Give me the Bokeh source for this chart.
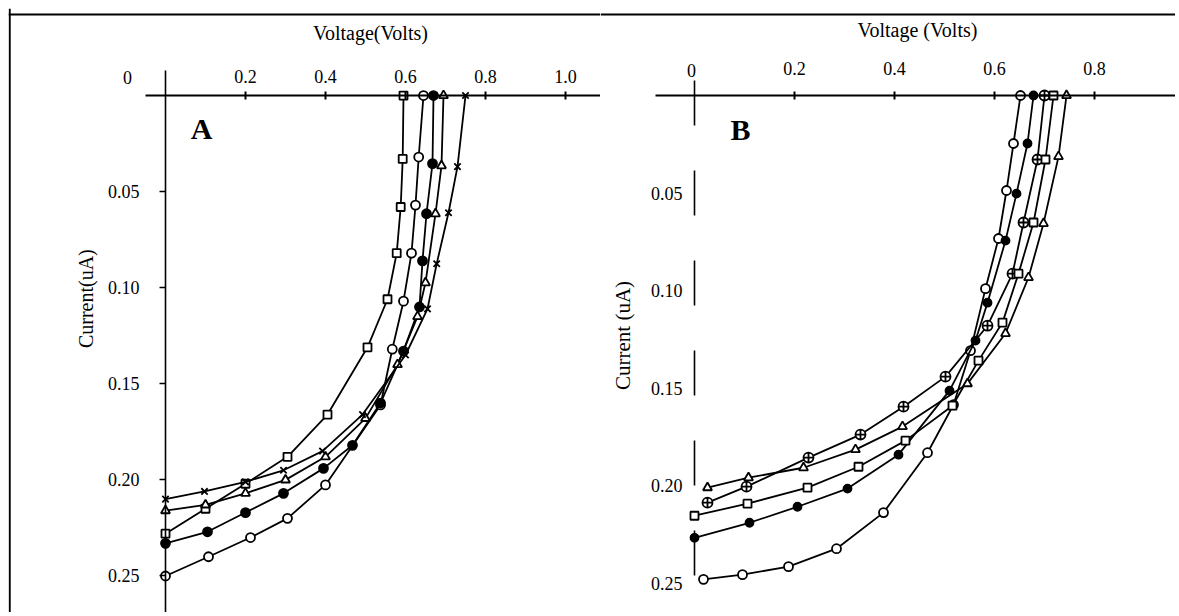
import math
from bokeh.plotting import figure
from bokeh.models import Range1d, FixedTicker, PrintfTickFormatter, Label, Span
from bokeh.layouts import row
from bokeh.embed import file_html
from bokeh.resources import INLINE

SERIF = "Liberation Serif"

# ---------------- Panel A data (Voltage in V, Current in uA) ----------------
a_sq_v = [0.0, 0.10, 0.20, 0.305, 0.405, 0.505, 0.555, 0.578, 0.588, 0.593, 0.595]
a_sq_i = [0.228, 0.215, 0.202, 0.188, 0.166, 0.131, 0.106, 0.082, 0.058, 0.033, 0.0]

a_oc_v = [0.0, 0.1075, 0.2125, 0.305, 0.40, 0.5375, 0.567, 0.595, 0.615, 0.625, 0.633, 0.645]
a_oc_i = [0.250, 0.240, 0.230, 0.220, 0.2026, 0.161, 0.132, 0.107, 0.082, 0.057, 0.032, 0.0]

a_fc_v = [0.0, 0.105, 0.20, 0.295, 0.395, 0.4675, 0.5375, 0.595, 0.635, 0.6425, 0.6525, 0.6675, 0.670]
a_fc_i = [0.233, 0.227, 0.217, 0.207, 0.194, 0.182, 0.160, 0.133, 0.110, 0.086, 0.0615, 0.0354, 0.0]

a_tr_v = [0.0, 0.10, 0.20, 0.30, 0.40, 0.50, 0.58, 0.63, 0.65, 0.675, 0.69, 0.695]
a_tr_i = [0.216, 0.213, 0.207, 0.200, 0.188, 0.168, 0.140, 0.115, 0.0974, 0.0615, 0.0365, 0.0]

a_x_v = [0.0, 0.0975, 0.20, 0.295, 0.3925, 0.4925, 0.60, 0.655, 0.678, 0.7075, 0.73, 0.75]
a_x_i = [0.210, 0.206, 0.201, 0.195, 0.185, 0.166, 0.135, 0.111, 0.0875, 0.061, 0.037, 0.0]

# ---------------- Panel B data ----------------
b_oc_v = [0.018, 0.096, 0.188, 0.284, 0.378, 0.466, 0.518, 0.552, 0.582, 0.608, 0.624, 0.638, 0.652]
b_oc_i = [0.248, 0.2456, 0.2415, 0.2323, 0.2138, 0.1831, 0.1585, 0.1308, 0.099, 0.0733, 0.0487, 0.0246, 0.0]

b_fc_v = [0.0, 0.11, 0.206, 0.306, 0.408, 0.51, 0.562, 0.586, 0.622, 0.644, 0.666, 0.678]
b_fc_i = [0.2267, 0.219, 0.2108, 0.2015, 0.1841, 0.1513, 0.1256, 0.1062, 0.0744, 0.0503, 0.0246, 0.0]

b_cx_v = [0.026, 0.104, 0.228, 0.332, 0.418, 0.502, 0.586, 0.636, 0.658, 0.686, 0.700]
b_cx_i = [0.2087, 0.2005, 0.1856, 0.1738, 0.1595, 0.1441, 0.118, 0.0913, 0.0651, 0.0328, 0.0]

b_sq_v = [0.0, 0.106, 0.226, 0.328, 0.422, 0.516, 0.568, 0.616, 0.648, 0.678, 0.702, 0.718]
b_sq_i = [0.2154, 0.2092, 0.201, 0.1903, 0.1769, 0.159, 0.1359, 0.1164, 0.0913, 0.0651, 0.0328, 0.0]

b_tr_v = [0.026, 0.108, 0.218, 0.322, 0.416, 0.546, 0.622, 0.668, 0.698, 0.728, 0.744]
b_tr_i = [0.201, 0.1959, 0.1908, 0.1815, 0.1697, 0.1477, 0.122, 0.0933, 0.0656, 0.0313, 0.0]

a_xticks = [0.2, 0.4, 0.6, 0.8, 1.0]
b_xticks = [0.2, 0.4, 0.6, 0.8]
yticks = [0.05, 0.10, 0.15, 0.20, 0.25]


def base_fig(width, height, xr, yr, left):
    p = figure(width=width, height=height, x_range=Range1d(*xr), y_range=Range1d(*yr),
               output_backend="svg", toolbar_location=None, x_axis_location="above",
               min_border=0, min_border_left=left, min_border_right=0,
               min_border_top=8, min_border_bottom=0)
    p.outline_line_color = None
    p.grid.visible = False
    p.background_fill_color = "white"
    p.border_fill_color = "white"
    return p


def style_axes(p, xticks, xbounds, ybounds, ytick_out, ystand, xstand):
    xa = p.xaxis[0]
    xa.fixed_location = 0
    xa.bounds = xbounds
    xa.ticker = FixedTicker(ticks=xticks)
    xa.formatter = PrintfTickFormatter(format="%.1f")
    xa.major_tick_in = 4
    xa.major_tick_out = 4
    xa.minor_tick_line_color = None
    xa.axis_line_width = 2
    xa.axis_line_color = "black"
    xa.major_tick_line_color = "black"
    xa.major_tick_line_width = 2
    xa.major_label_text_font = SERIF
    xa.major_label_text_font_size = "18px"
    xa.major_label_text_color = "black"
    xa.major_label_standoff = xstand
    ya = p.yaxis[0]
    ya.fixed_location = 0
    ya.bounds = ybounds
    ya.ticker = FixedTicker(ticks=yticks)
    ya.formatter = PrintfTickFormatter(format="%.2f")
    ya.major_tick_in = 0
    ya.major_tick_out = ytick_out
    ya.minor_tick_line_color = None
    ya.axis_line_width = 1.6
    ya.axis_line_color = "black"
    ya.major_tick_line_color = "black"
    ya.major_tick_line_width = 1.6
    ya.major_label_text_font = SERIF
    ya.major_label_text_font_size = "18px"
    ya.major_label_text_color = "black"
    ya.major_label_standoff = ystand
    return xa, ya


def curve(p, v, i, marker, fill, size=9):
    p.line(v, i, line_color="black", line_width=1.8)
    p.scatter(v, i, marker=marker, size=size, fill_color=fill, line_color="black", line_width=1.8)


def text(p, x, y, s, size, bold=False, angle=0.0):
    p.add_layout(Label(x=x, y=y, text=s, text_font=SERIF, text_font_size=size,
                       text_font_style="bold" if bold else "normal", text_color="black",
                       text_align="center", text_baseline="middle", angle=angle))


# ---------------- Panel A ----------------
pa = base_fig(600, 612, (-0.3925, 1.0875), (0.269, -0.0453), 8)
style_axes(pa, a_xticks, (-0.05, 1.09), (-0.013, 0.27), 6, 20, 9)
curve(pa, a_sq_v, a_sq_i, "square", "white", 8)
curve(pa, a_oc_v, a_oc_i, "circle", "white")
curve(pa, a_fc_v, a_fc_i, "circle", "black")
curve(pa, a_tr_v, a_tr_i, "triangle", "white")
curve(pa, a_x_v, a_x_i, "x", "white")

pa.add_layout(Span(location=-0.3895, dimension="height", line_color="black", line_width=2))
pa.add_layout(Span(location=-0.0422, dimension="width", line_color="black", line_width=2))
text(pa, 0.5125, -0.0323, "Voltage(Volts)", "20px")
text(pa, -0.095, -0.0094, "0", "18px")
text(pa, -0.20, 0.1057, "Current(uA)", "20px", angle=math.pi / 2)
text(pa, 0.09, 0.0172, "A", "30px", bold=True)

# ---------------- Panel B ----------------
pb = base_fig(575, 612, (-0.188, 0.962), (0.265, -0.0446), 0)
xb, yb = style_axes(pb, b_xticks, (-0.078, 0.962), (-0.0077, 0.261), 0, 12, 17)
yb.axis_line_dash = "45 45"
yb.axis_line_dash_offset = 0
curve(pb, b_oc_v, b_oc_i, "circle", "white")
curve(pb, b_fc_v, b_fc_i, "circle", "black", 8)
curve(pb, b_cx_v, b_cx_i, "circle_cross", "white", 10)
curve(pb, b_sq_v, b_sq_i, "square", "white", 8)
curve(pb, b_tr_v, b_tr_i, "triangle", "white")

pb.add_layout(Span(location=-0.0415, dimension="width", line_color="black", line_width=2))
text(pb, 0.446, -0.0338, "Voltage (Volts)", "20px")
text(pb, -0.006, -0.0128, "0", "18px")
text(pb, -0.144, 0.123, "Current (uA)", "21px", angle=math.pi / 2)
text(pb, 0.092, 0.0174, "B", "30px", bold=True)

layout = row(pa, pb, spacing=0)
open("out.html", "w").write(file_html(layout, INLINE))
